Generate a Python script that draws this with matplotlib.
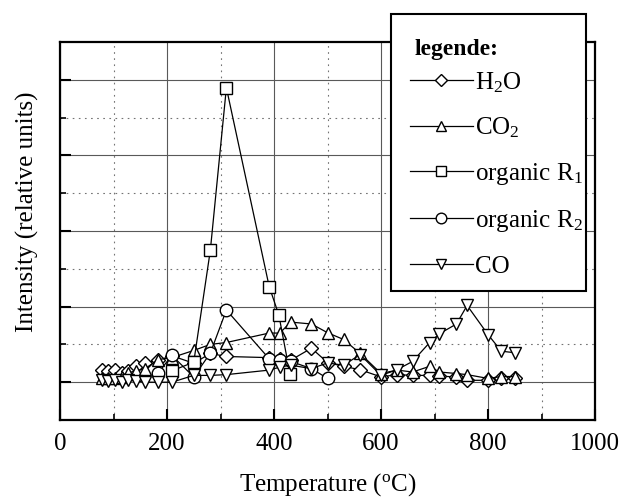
import matplotlib
matplotlib.use('Agg')
import matplotlib.pyplot as plt
from matplotlib.patches import Rectangle

plt.rcParams['font.family'] = 'Liberation Serif'
plt.rcParams['mathtext.fontset'] = 'custom'
plt.rcParams['mathtext.rm'] = 'Liberation Serif'
plt.rcParams['mathtext.it'] = 'Liberation Serif:italic'
plt.rcParams['mathtext.bf'] = 'Liberation Serif:bold'

# temperatures (oC) of the measurements
temps = [78, 90, 102, 115, 128, 142, 159, 184, 209, 250, 281, 311, 391, 411,
         431, 470, 500, 530, 561, 600, 630, 659, 691, 709, 741, 761, 800, 825, 850]

# intensities, relative units
h2o = [1.33, 1.30, 1.32, 1.25, 1.30, 1.42, 1.52, 1.58, 1.70, 1.50, 1.76, 1.68, 1.65, 1.62,
       1.58, 1.90, 1.52, 1.42, 1.33, 1.14, 1.20, 1.18, 1.18, 1.16, 1.14, 1.05, 1.05, 1.10, 1.10]
co2 = [1.10, 1.10, 1.12, 1.15, 1.25, 1.30, 1.36, 1.60, 1.65, 1.84, 2.00, 2.05, 2.30, 2.30,
       2.59, 2.54, 2.31, 2.13, 1.76, 1.23, 1.32, 1.27, 1.42, 1.27, 1.23, 1.20, 1.10, 1.15, 1.15]
co = [1.05, 1.03, 1.05, 1.00, 1.05, 1.03, 1.00, 1.00, 1.00, 1.18, 1.18, 1.20, 1.32, 1.40,
      1.45, 1.36, 1.51, 1.45, 1.73, 1.18, 1.33, 1.55, 2.05, 2.28, 2.54, 3.03, 2.26, 1.82, 1.78]

t_r1 = [209, 250, 281, 311, 391, 409, 430]
r1 = [1.30, 1.53, 4.49, 8.79, 3.53, 2.78, 1.21]

t_r2 = [184, 209, 250, 281, 311, 391, 411, 431, 470, 500]
r2 = [1.25, 1.71, 1.14, 1.77, 2.91, 1.62, 1.60, 1.55, 1.36, 1.10]

labels = ['H$_2$O', 'CO$_2$', 'organic R$_1$', 'organic R$_2$', 'CO']

W, H = 624, 501
fig = plt.figure(figsize=(W / 100, H / 100), dpi=100)
ax = fig.add_axes([60 / W, 81 / H, 535 / W, 378 / H])

style = dict(color='black', lw=0.9, mfc='white', mec='black', mew=1.0)
ax.plot(temps, h2o, marker='D', ms=7, label=labels[0], **style)
ax.plot(temps, co2, marker='^', ms=9, label=labels[1], **style)
ax.plot(t_r1, r1, marker='s', ms=8, label=labels[2], **style)
ax.plot(t_r2, r2, marker='o', ms=9, label=labels[3], **style)
ax.plot(temps, co, marker='v', ms=9, label=labels[4], **style)

ax.set_xlim(0, 1000)
ax.set_ylim(0, 10)
ax.set_xticks(range(0, 1001, 200))
ax.set_xticks(range(100, 1000, 200), minor=True)
ax.set_yticks([1, 3, 5, 7, 9])
ax.set_yticks([2, 4, 6, 8], minor=True)
ax.set_yticklabels([])
ax.tick_params(which='major', direction='in', length=8, width=1.5, labelsize=18, pad=9)
ax.tick_params(which='minor', direction='in', length=4.5, width=1.2)
ax.set_axisbelow(True)
ax.grid(which='major', color='0.35', lw=0.8, ls='-')
ax.grid(which='minor', color='0.45', lw=0.8, ls=(0, (1.5, 4)))
for s in ax.spines.values():
    s.set_linewidth(1.6)

ax.set_xlabel(r'Temperature ($^{\rm o}$C)', fontsize=18, labelpad=12)
ax.set_ylabel('Intensity (relative units)', fontsize=18)
ax.yaxis.set_label_coords(-0.04, 0.55)

# legend box sticks out above the axes
box = Rectangle((391 / W, 1 - 291 / H), 195 / W, 277 / H, transform=fig.transFigure,
                facecolor='white', edgecolor='black', lw=1.5, zorder=3)
fig.add_artist(box)
fig.text(415 / W, 1 - 50 / H, 'legende:', fontsize=17, fontweight='bold',
         va='center', ha='left', zorder=6)
handles, labs = ax.get_legend_handles_labels()
leg = fig.legend(handles, labs, loc='upper left', bbox_to_anchor=(410 / W, 1 - 70 / H),
                 borderaxespad=0, borderpad=0, fontsize=18, frameon=False,
                 handlelength=2.5, handletextpad=0.1, labelspacing=0.84, markerscale=0.85)
leg.set_zorder(5)

fig.savefig('out.png', dpi=100)
